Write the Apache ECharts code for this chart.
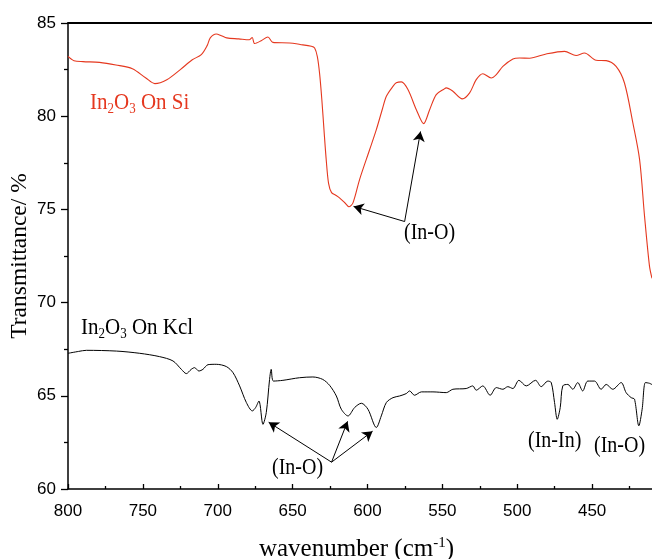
<!DOCTYPE html>
<html>
<head>
<meta charset="utf-8">
<script src="https://cdn.jsdelivr.net/npm/echarts@6/dist/echarts.min.js"></script>
<style>
  html, body { margin: 0; padding: 0; background: #fff; }
  #chart { width: 652px; height: 559px; }
</style>
</head>
<body>
<div id="chart"></div>
<script>
// FTIR spectra of In2O3 films: on Si substrate and on KCl substrate
const siWavenumber = [800, 796, 790, 779, 768, 757, 748, 742, 734, 725, 717, 711, 707, 705, 701, 697.6, 694, 686, 679, 677, 675.4, 671, 666.5, 663.2, 652, 645, 637.5, 635.3, 633.5, 632, 630.5, 629, 627.5, 626, 624, 621, 618.7, 615.3, 612.4, 609.7, 605.3, 598.6, 594.1, 590, 587.4, 583, 580.8, 577.4, 573, 567.4, 562.5, 558.5, 554.1, 549, 547.4, 543, 536.7, 531.8, 527.4, 523, 517.4, 514, 509.6, 502.9, 498.5, 491.8, 480.7, 468.4, 460.7, 455.1, 447.3, 440.6, 434, 428.4, 422.8, 418.3, 415, 411.7, 410];
const siTransmittance = [83.21, 82.98, 82.93, 82.89, 82.75, 82.55, 82.05, 81.75, 81.96, 82.50, 83.03, 83.30, 83.8, 84.2, 84.41, 84.32, 84.2, 84.15, 84.1, 84.22, 83.9, 84.05, 84.25, 83.96, 83.93, 83.85, 83.75, 83.66, 83.2, 82.3, 80.9, 79.2, 77.6, 76.4, 75.9, 75.75, 75.62, 75.37, 75.14, 75.35, 76.6, 78.2, 79.28, 80.4, 81.07, 81.6, 81.79, 81.84, 81.43, 80.35, 79.6, 80.35, 81.16, 81.45, 81.52, 81.34, 80.93, 81.25, 81.96, 82.28, 82.05, 82.23, 82.67, 83.07, 83.12, 83.11, 83.34, 83.48, 83.26, 83.39, 83.0, 82.98, 82.67, 81.78, 79.64, 77.67, 74.64, 71.96, 71.3];

const kclWavenumber = [800, 793, 787.7, 767.7, 752.1, 738.8, 729.9, 724.3, 721, 717.7, 715.5, 712.6, 709.9, 706.5, 701, 694.3, 689.8, 685.4, 680.9, 676.9, 674.7, 672.5, 669.8, 667.6, 665.4, 664.3, 662.8, 656.5, 645.4, 636.5, 629.9, 625.3, 620.8, 617.5, 613, 608.6, 604.1, 599.7, 594.1, 590.8, 587.4, 583, 578.6, 574.1, 571.9, 568.6, 564, 556.3, 547.4, 543, 534.1, 529.7, 527.4, 523, 518.1, 514, 509.6, 506.3, 502.9, 498.9, 494, 487.8, 484, 479.6, 477.3, 475.1, 473.3, 471.3, 469.6, 466.2, 462.9, 459.6, 456.3, 452.9, 448.4, 444, 440.6, 436.2, 430.6, 427.3, 423.9, 421.7, 418.8, 416.6, 414.4, 411.7, 410];
const kclTransmittance = [67.28, 67.38, 67.44, 67.40, 67.28, 67.1, 66.87, 66.42, 66.19, 66.42, 66.51, 66.33, 66.42, 66.67, 66.69, 66.57, 66.24, 65.53, 64.64, 64.19, 64.37, 64.72, 63.47, 64.1, 65.88, 66.42, 65.79, 65.83, 65.97, 66.01, 65.88, 65.56, 64.99, 64.28, 63.92, 64.37, 64.60, 64.28, 63.30, 63.92, 64.64, 64.9, 64.99, 65.12, 65.26, 65.03, 65.21, 65.21, 65.17, 65.35, 65.39, 65.53, 65.30, 65.53, 65.03, 65.44, 65.35, 65.49, 65.39, 65.83, 65.53, 65.83, 65.49, 65.79, 65.71, 64.64, 63.74, 64.37, 65.53, 65.61, 65.35, 65.71, 65.26, 65.79, 65.79, 65.35, 65.61, 65.35, 65.71, 65.17, 64.9, 64.82, 63.39, 64.28, 65.71, 65.67, 65.6];

// Arrow pointers for the band assignments: [tail, head] in (wavenumber, transmittance)
const siArrows = [
  [[575.2, 74.35], [609.3, 75.16]],
  [[575.2, 74.35], [564.6, 79.18]]
];
const kclArrows = [
  [[624.0, 61.44], [666.0, 63.58]],
  [[624.0, 61.44], [613.3, 63.63]],
  [[624.0, 61.44], [596.6, 63.10]]
];

const xTicks = { min: 400, max: 800, step: 50 };
const yTicks = { min: 60, max: 85, step: 5 };

const RED = '#e5381f';
const SERIF = '"Liberation Serif", "DejaVu Serif", serif';
const SANS = '"Liberation Sans", Arial, sans-serif';
const TALL = 1.12; // annotation glyphs are drawn slightly tall

function pairs(xs, ys) { return xs.map((x, i) => [x, ys[i]]); }
function arrowLines(list) {
  return list.map(([a, b]) => [{ coord: a, symbol: 'none' }, { coord: b, symbol: 'arrow' }]);
}
function formulaLabel(left, top, tail, color) {
  return {
    type: 'text', left, top, scaleY: TALL,
    style: {
      text: '{n|In}{s|2}{n|O}{s|3}{n| ' + tail + '}',
      fill: color,
      rich: {
        n: { fontSize: 21, fontFamily: SERIF, fill: color },
        s: { fontSize: 13, fontFamily: SERIF, fill: color, verticalAlign: 'bottom', padding: [11, 0, 0, 0] }
      }
    }
  };
}
function bandLabel(text, left, top) {
  return { type: 'text', left, top, scaleY: TALL, style: { text, fill: '#000', font: '20px ' + SERIF } };
}

const chart = echarts.init(document.getElementById('chart'), null, { renderer: 'canvas' });

chart.setOption({
  animation: false,
  backgroundColor: '#fff',
  // the plot runs on past the right edge of the page, down to 400 cm-1
  grid: { left: 68, width: 599, top: 23, bottom: 70, containLabel: false, outerBoundsMode: 'none' },
  xAxis: [{
    type: 'value',
    inverse: true,
    min: xTicks.min, max: xTicks.max, interval: xTicks.step,
    position: 'bottom',
    axisLine: { show: true, onZero: false, lineStyle: { color: '#000', width: 1.5 } },
    axisTick: { show: true, inside: true, length: 5, lineStyle: { color: '#000', width: 1.3 } },
    minorTick: { show: true, splitNumber: 2, length: 3, lineStyle: { color: '#000', width: 1.3 } },
    splitLine: { show: false },
    axisLabel: { color: '#000', fontSize: 17, fontFamily: SANS, margin: 14, showMinLabel: false },
    name: 'wavenumber (cm{sup|-1})',
    nameLocation: 'middle',
    nameGap: 47,
    nameTextStyle: {
      color: '#000', fontSize: 25, fontFamily: SERIF, padding: [0, 22, 0, 0],
      rich: { sup: { fontSize: 15, fontFamily: SERIF, color: '#000', verticalAlign: 'top', padding: [0, 0, 11, 0] } }
    }
  }, {
    type: 'value',
    inverse: true,
    min: xTicks.min, max: xTicks.max,
    position: 'top',
    axisLine: { show: true, onZero: false, lineStyle: { color: '#000', width: 1.8 } },
    axisTick: { show: false },
    axisLabel: { show: false },
    splitLine: { show: false }
  }],
  yAxis: {
    type: 'value',
    min: yTicks.min, max: yTicks.max, interval: yTicks.step,
    axisLine: { show: true, onZero: false, lineStyle: { color: '#000', width: 1.5 } },
    axisTick: { show: true, inside: false, length: 7, lineStyle: { color: '#000', width: 1.3 } },
    minorTick: { show: true, splitNumber: 2, length: 4, lineStyle: { color: '#000', width: 1.3 } },
    splitLine: { show: false },
    axisLabel: { color: '#000', fontSize: 17, fontFamily: SANS, margin: 12 },
    name: 'Transmittance/ %',
    nameLocation: 'middle',
    nameGap: 36,
    nameMoveOverlap: false,
    nameRotate: 90,
    nameTextStyle: { color: '#000', fontSize: 23.5, fontFamily: SERIF }
  },
  series: [{
    name: 'In2O3 On Si',
    type: 'line',
    data: pairs(siWavenumber, siTransmittance),
    showSymbol: false,
    smooth: 0.3,
    clip: true,
    lineStyle: { color: RED, width: 1.1 },
    markLine: {
      silent: true,
      animation: false,
      symbolSize: [9, 10],
      label: { show: false },
      lineStyle: { color: '#000', width: 1, type: 'solid' },
      data: arrowLines(siArrows)
    }
  }, {
    name: 'In2O3 On Kcl',
    type: 'line',
    data: pairs(kclWavenumber, kclTransmittance),
    showSymbol: false,
    smooth: 0.3,
    clip: true,
    lineStyle: { color: '#000', width: 1 },
    markLine: {
      silent: true,
      animation: false,
      symbolSize: [9, 10],
      label: { show: false },
      lineStyle: { color: '#000', width: 1, type: 'solid' },
      data: arrowLines(kclArrows)
    }
  }],
  graphic: [
    formulaLabel(90, 91, 'On Si', RED),
    formulaLabel(81, 316, 'On Kcl', '#000'),
    bandLabel('(In-O)', 404, 222),
    bandLabel('(In-O)', 272, 457),
    bandLabel('(In-In)', 528, 430),
    bandLabel('(In-O)', 594, 435)
  ]
});
</script>
</body>
</html>
